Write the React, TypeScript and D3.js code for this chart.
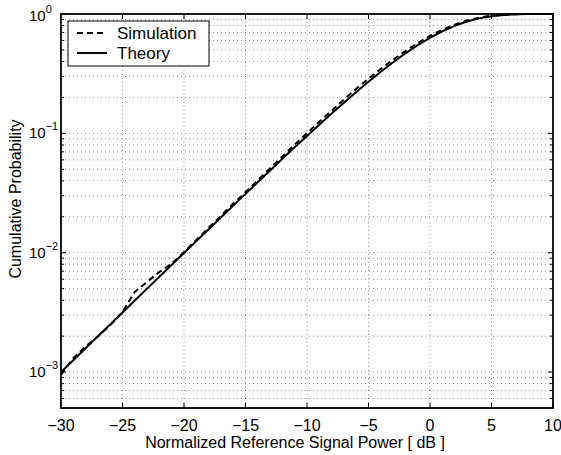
import React from "react";
import * as d3 from "d3";

const xDb = [-30,-29,-28,-27,-26,-25,-24,-23,-22,-21,-20,-19,-18,-17,-16,-15,-14,-13,-12,-11,-10,-9,-8,-7,-6,-5,-4,-3,-2,-1,0,1,2,3,4,5,6,7,8,9,10];
const theory = [0.0009995,0.001258,0.001584,0.001993,0.002509,0.003157,0.003973,0.005,0.00629,0.00791,0.00995,0.01251,0.01572,0.01975,0.02481,0.03113,0.03903,0.04888,0.06115,0.07636,0.09516,0.1183,0.1466,0.1809,0.2221,0.2711,0.3284,0.3942,0.4679,0.5481,0.6321,0.7161,0.7951,0.864,0.9189,0.9577,0.9813,0.9933,0.9982,0.99965,0.99995];
const simulation = [0.00095,0.00131,0.00164,0.00199,0.00246,0.00318,0.0047,0.0057,0.0069,0.0081,0.0101,0.0128,0.0162,0.0203,0.0257,0.0322,0.0405,0.051,0.064,0.0805,0.1005,0.125,0.155,0.192,0.236,0.287,0.347,0.414,0.49,0.572,0.655,0.738,0.815,0.882,0.933,0.968,0.987,0.996,0.999,1.0,1.0];
const xTicks = [-30,-25,-20,-15,-10,-5,0,5,10];
const yDecades = [-3,-2,-1,0];
const legendLabels = ["Simulation","Theory"];
const xLabel = "Normalized Reference Signal Power [ dB ]";
const yLabel = "Cumulative Probability";

export default function App() {
  const W = 561, H = 455;
  const L = 61, R = 553, T = 14, B = 408;
  const x = d3.scaleLinear().domain([-30, 10]).range([L, R]);
  const y = d3.scaleLog().domain([5e-4, 1]).range([B, T]);
  const line = d3.line<number>().x((_, i) => x(xDb[i])).y(d => y(d));
  const minor: number[] = [];
  for (let k = -4; k <= -1; k++) for (let m = 2; m <= 9; m++) { const v = m * Math.pow(10, k); if (v >= 5e-4 && v < 1) minor.push(v); }
  const font = "Liberation Sans, Arial, Helvetica, sans-serif";
  const grid = { stroke: "#000", strokeOpacity: 0.45, strokeWidth: 1, strokeDasharray: "1 3" } as const;
  return (
    <svg width={W} height={H} style={{ position: "absolute", left: 0, top: 0, background: "#fff" }} fontFamily={font}>
      <rect x={0} y={0} width={W} height={H} fill="#fff" />
      {xTicks.slice(1, -1).map(t => <line key={"gx" + t} x1={x(t)} x2={x(t)} y1={T} y2={B} {...grid} />)}
      {minor.concat(yDecades.map(k => Math.pow(10, k)).filter(v => v < 1)).map(v => <line key={"gy" + v} x1={L} x2={R} y1={y(v)} y2={y(v)} {...grid} />)}
      <clipPath id="clip"><rect x={L} y={T - 2} width={R - L} height={B - T + 2} /></clipPath>
      <g clipPath="url(#clip)">
        <path d={line(theory) || ""} fill="none" stroke="#000" strokeWidth={2} />
        <path d={line(simulation) || ""} fill="none" stroke="#000" strokeWidth={2} strokeDasharray="6 4" />
      </g>
      {xTicks.map(t => (
        <g key={"xt" + t}>
          <line x1={x(t)} x2={x(t)} y1={B} y2={B - 5} stroke="#000" />
          <line x1={x(t)} x2={x(t)} y1={T} y2={T + 5} stroke="#000" />
          <text x={x(t)} y={431} textAnchor="middle" fontSize={16}>{t < 0 ? "\u2212" + Math.abs(t) : String(t)}</text>
        </g>
      ))}
      {minor.map(v => (
        <g key={"ym" + v}>
          <line x1={L} x2={L + 3} y1={y(v)} y2={y(v)} stroke="#000" />
          <line x1={R} x2={R - 3} y1={y(v)} y2={y(v)} stroke="#000" />
        </g>
      ))}
      {yDecades.map(k => (
        <g key={"yt" + k}>
          <line x1={L} x2={L + 5} y1={y(Math.pow(10, k))} y2={y(Math.pow(10, k))} stroke="#000" />
          <line x1={R} x2={R - 5} y1={y(Math.pow(10, k))} y2={y(Math.pow(10, k))} stroke="#000" />
          <text x={29} y={y(Math.pow(10, k)) + (k === 0 ? 7 : 5)} fontSize={15}>10<tspan dy={-8} fontSize={11}>{k === 0 ? "0" : "\u2212" + Math.abs(k)}</tspan></text>
        </g>
      ))}
      <rect x={L} y={T} width={R - L} height={B - T} fill="none" stroke="#000" strokeWidth={1.8} />
      <g>
        <rect x={68} y={21} width={141} height={45} fill="#fff" stroke="#000" strokeWidth={1} />
        <line x1={77} x2={107} y1={33} y2={33} stroke="#000" strokeWidth={2} strokeDasharray="6 4" />
        <line x1={77} x2={107} y1={53} y2={53} stroke="#000" strokeWidth={2} />
        <text x={117} y={39} fontSize={17}>{legendLabels[0]}</text>
        <text x={117} y={59} fontSize={17}>{legendLabels[1]}</text>
      </g>
      <text x={(L + R) / 2 - 12} y={448} textAnchor="middle" fontSize={16}>{xLabel}</text>
      <text transform={`translate(21,${199}) rotate(-90)`} textAnchor="middle" fontSize={16}>{yLabel}</text>
    </svg>
  );
}
